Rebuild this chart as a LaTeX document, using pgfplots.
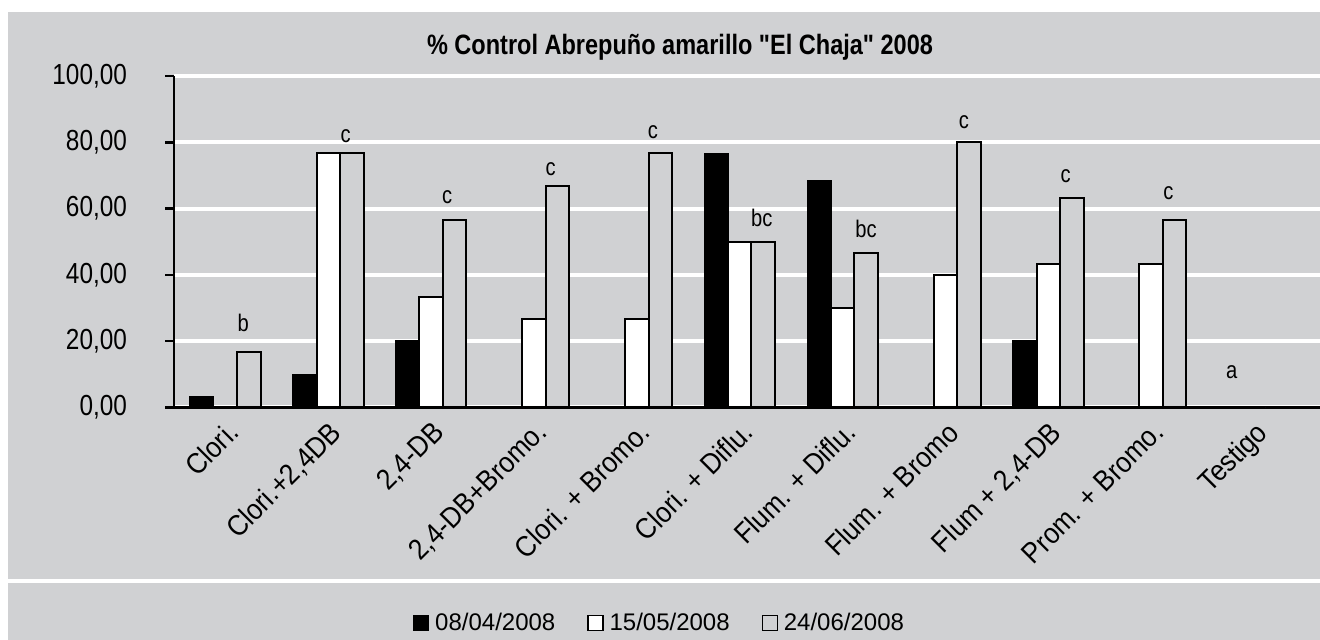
\documentclass[border=0pt]{standalone}
\usepackage{fontspec}
\setmainfont{Liberation Sans}[FakeStretch=0.84]
\newfontfamily\titlefont{Liberation Sans}[FakeStretch=0.84, Ligatures=TeXOff]
\newfontfamily\labfont{Liberation Sans}[FakeStretch=0.9]
\newfontfamily\legfont{Liberation Sans}
\usepackage{pgfplots}
\pgfplotsset{compat=1.18}
\definecolor{bg}{RGB}{208,209,211}
\pgfplotsset{sqlegend/.style={legend image code/.code={\draw[##1, line width=0.6pt] (0pt,-3.75pt) rectangle (7.5pt,3.75pt);}}}
\begin{document}
\begin{tikzpicture}[x=1pt,y=1pt]
\useasboundingbox (0,0) rectangle (660,320);
\fill[white] (0,0) rectangle (660,320);
\fill[bg] (4,0) rectangle (660,314);
\fill[white] (4,28.5) rectangle (660,30.5);
\node[font=\titlefont\bfseries\fontsize{14}{16}\selectfont] at (340,296.5) {\% Control Abrepuño amarillo "El Chaja" 2008};
\begin{axis}[
  at={(87pt,116.25pt)}, anchor=south west, scale only axis,
  width=573pt, height=165.75pt,
  xmin=-0.5, xmax=10.642, ymin=0, ymax=100,
  axis x line=bottom, axis y line=left,
  axis line style={line width=1.3pt, -},
  ymajorgrids, grid style={white, line width=2pt},
  tick align=outside, major tick length=4.5pt,
  ytick={0,20,...,100},
  yticklabels={{0,00},{20,00},{40,00},{60,00},{80,00},{100,00}},
  ytick style={line width=1.3pt, black},
  yticklabel style={font=\fontsize{14.5}{16}\selectfont, xshift=-15.5pt},
  xtick={0,...,10},
  xticklabels={Clori.,{Clori.+2,4DB},{2,4-DB},{2,4-DB+Bromo.},Clori. + Bromo.,Clori. + Diflu.,Flum. + Diflu.,Flum. + Bromo,{Flum + 2,4-DB},Prom. + Bromo.,Testigo},
  xtick style={draw=none},
  xticklabel style={rotate=45, anchor=north east, font=\labfont\fontsize{14.5}{16}\selectfont, inner sep=1pt},
  extra x ticks={-0.5,0.5,...,9.5},
  extra x tick labels={},
  extra x tick style={tick style={draw=black, line width=1.3pt}, major tick length=5.5pt},
  legend style={at={(0.203,-0.650)}, anchor=west, draw=none, fill=none,
    legend columns=3, font=\legfont\fontsize{12}{14}\selectfont,
    /tikz/every odd column/.append style={column sep=1pt},
    /tikz/every even column/.append style={column sep=14pt}},
]
\addplot[ybar, fill=black, draw=black, line width=0.8pt, bar width=0.2285, bar shift=-0.2285, sqlegend]
  coordinates {(0,3.33) (1,10) (2,20) (3,0) (4,0) (5,76.67) (6,68.33) (7,0) (8,20) (9,0) (10,0)};
\addlegendentry{08/04/2008}
\addplot[ybar, fill=white, draw=black, line width=1pt, bar width=0.2285, bar shift=0, sqlegend]
  coordinates {(0,0) (1,76.67) (2,33.33) (3,26.67) (4,26.67) (5,50) (6,30) (7,40) (8,43.33) (9,43.33) (10,0)};
\addlegendentry{15/05/2008}
\addplot[ybar, fill=bg, draw=black, line width=1pt, bar width=0.2285, bar shift=0.2285, sqlegend]
  coordinates {(0,16.67) (1,76.67) (2,56.67) (3,66.67) (4,76.67) (5,50) (6,46.67) (7,80) (8,63.33) (9,56.67) (10,0)};
\addlegendentry{24/06/2008}
\begin{scope}[every node/.style={font=\fontsize{12}{14}\selectfont}]
\node at (axis cs:0.174,25.6) {b};
\node at (axis cs:1.170,81.9) {c};
\node at (axis cs:2.157,63.4) {c};
\node at (axis cs:3.163,71.9) {c};
\node at (axis cs:4.155,83.2) {c};
\node at (axis cs:5.214,57.1) {bc};
\node at (axis cs:6.228,53.8) {bc};
\node at (axis cs:7.181,86.2) {c};
\node at (axis cs:8.170,69.9) {c};
\node at (axis cs:9.168,64.6) {c};
\node at (axis cs:9.784,10.8) {a};
\end{scope}
\end{axis}
\end{tikzpicture}
\end{document}
